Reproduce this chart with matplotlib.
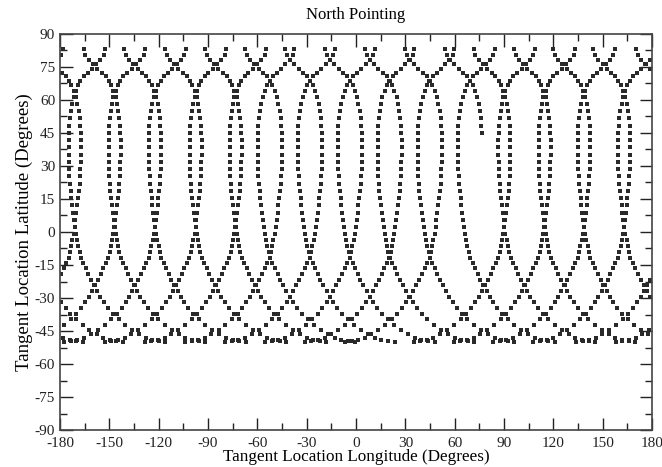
import numpy as np
import matplotlib
matplotlib.use("Agg")
import matplotlib.pyplot as plt

title = "North Pointing"
x_label = "Tangent Location Longitude (Degrees)"
y_label = "Tangent Location Latitude (Degrees)"
x_ticks = list(range(-180, 181, 30))
y_ticks = list(range(-90, 91, 15))

# anchor longitude of every "(" strand (left side of a loop)
left_anchors = [-167.4, -143.2, -118.6, -93.9, -69.6, -52.4, -28.0, -3.7,
                20.4, 44.8, 69.3, 93.9, 118.3, 142.3, 166.7]
# anchor longitude of every ")" strand (right side of a loop)
right_anchors = [-174.7, -150.5, -125.9, -101.2, -76.9, -52.4, -28.0, -3.7,
                 20.4, 44.8, 86.6, 111.0, 135.0, 159.4]
# the ")" strand where the record stops (track ends near lon 76, lat 42)
last_anchor = 69.3
last_end_lat = 42.0

# one "(" strand, read off the loop near lon -4 (offset from anchor, lat)
strand_dlon = [51.5, 47.5, 43.5, 39.5, 35.5, 31.2, 27.0, 23.0, 19.6, 16.7,
               14.2, 12.0, 10.1, 8.2, 6.4, 4.7, 3.1, 1.6, 0.1, -0.7,
               -1.5, -2.2, -3.0, -3.6, -4.1, -4.7, -5.2, -5.7, -6.2, -6.6,
               -6.9, -7.1, -7.2, -7.3, -7.3, -7.3, -7.2, -7.0, -6.6, -6.0,
               -5.2, -4.3, -3.0, -1.6, -0.2, 1.8, 4.2, 6.8, 9.5, 12.0,
               14.0, 15.0]
strand_lat = [-49.8, -49.6, -49.0, -48.0, -46.5, -44.5, -42.2, -39.7, -37.2, -34.6,
              -32.0, -29.4, -26.8, -24.2, -21.6, -19.0, -16.5, -14.0, -11.6, -9.1,
              -6.5, -3.8, -0.8, 2.3, 5.5, 8.8, 12.1, 15.4, 18.7, 22.0,
              25.3, 28.6, 31.9, 35.2, 38.5, 41.8, 45.1, 48.4, 51.7, 55.0,
              58.2, 61.3, 64.1, 66.6, 68.8, 70.7, 72.4, 74.2, 76.2, 78.3,
              80.6, 83.0]

plt.rcParams["font.family"] = ["Liberation Serif", "DejaVu Serif"]
plt.rcParams["axes.unicode_minus"] = False

fig = plt.figure(figsize=(6.62, 4.67), dpi=100)
ax = fig.add_axes([60 / 662, 1 - 430 / 467, 592 / 662, 396 / 467])


def wrap(lo):
    return ((lo + 180.0) % 360.0) - 180.0


lons, lats = [], []
for a in left_anchors:
    for d, la in zip(strand_dlon, strand_lat):
        lons.append(wrap(a + d))
        lats.append(la)
for a in right_anchors:
    for d, la in zip(strand_dlon, strand_lat):
        lons.append(wrap(a - d))
        lats.append(la)
for d, la in zip(strand_dlon, strand_lat):
    if la >= last_end_lat:
        lons.append(wrap(last_anchor - d))
        lats.append(la)

ax.plot(lons, lats, linestyle="none", marker="s", markersize=2.2,
        color="#2a2a2a", markeredgewidth=0)

ax.set_xlim(-180, 180)
ax.set_ylim(-90, 90)
ax.set_xticks(x_ticks)
ax.set_yticks(y_ticks)
ax.set_xticks(np.arange(-165, 180, 30), minor=True)
ax.set_yticks(np.arange(-82.5, 90, 15), minor=True)
ax.tick_params(which="both", direction="in", top=True, right=True,
               labelsize=11, colors="#222222")
ax.tick_params(axis="x", pad=5)
ax.tick_params(which="major", length=9, width=1)
ax.tick_params(which="minor", length=5, width=1)
for s in ax.spines.values():
    s.set_linewidth(1.2)
    s.set_color("#444444")

ax.set_title(title, fontsize=12, pad=11)
ax.set_xlabel(x_label, fontsize=12.3, labelpad=-1)
ax.set_ylabel(y_label, fontsize=13.5, labelpad=1)

fig.savefig("out.png", dpi=100)
